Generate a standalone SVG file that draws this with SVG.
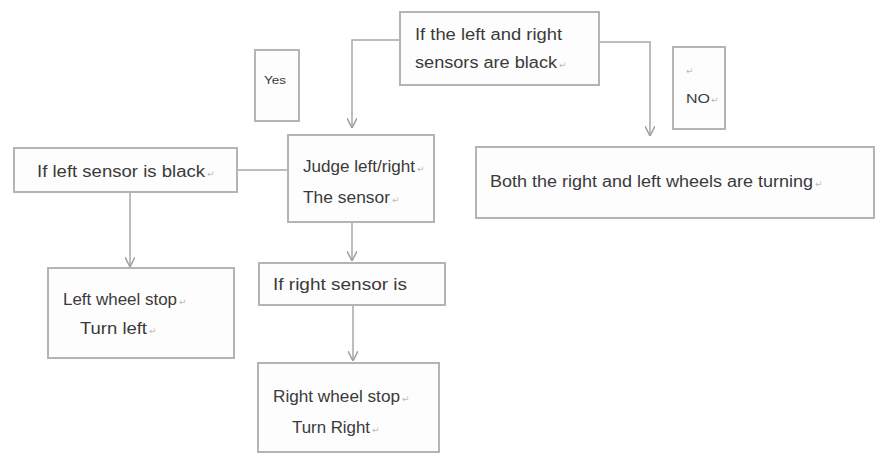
<svg xmlns="http://www.w3.org/2000/svg" width="875" height="453" viewBox="0 0 875 453">
<style>
.box{fill:#fdfdfd;stroke:#b4b4b4;stroke-width:2}
.t{font-family:"Liberation Sans",Arial,sans-serif;font-size:16px;fill:#3a3a3a}
.pm{font-family:"DejaVu Sans",sans-serif;fill:#bbbbbb;font-size:9px}
.c{fill:none;stroke:#a8a8a8;stroke-width:1.5}
</style>
<defs>
<marker id="ah" viewBox="0 0 10 10" refX="9" refY="5" markerWidth="10" markerHeight="10" markerUnits="userSpaceOnUse" orient="auto">
<path d="M0,0 L10,5 L0,10" fill="none" stroke="#a0a0a0" stroke-width="1.5"/>
</marker>
</defs>
<rect width="875" height="453" fill="#ffffff"/>
<g id="connectors">
<polyline class="c" points="400,40 352,40 352,127" marker-end="url(#ah)"/>
<polyline class="c" points="599,42 650,42 650,135" marker-end="url(#ah)"/>
<line class="c" x1="237" y1="170" x2="288" y2="170"/>
<line class="c" x1="130" y1="192" x2="130" y2="266" marker-end="url(#ah)"/>
<line class="c" x1="352" y1="222" x2="352" y2="260" marker-end="url(#ah)"/>
<line class="c" x1="353" y1="305" x2="353" y2="360" marker-end="url(#ah)"/>
</g>
<g id="top">
<rect class="box" x="400" y="12" width="199" height="73"/>
<text class="t" x="415" y="40" textLength="147" lengthAdjust="spacingAndGlyphs">If the left and right</text>
<text class="t" x="415" y="68" textLength="142" lengthAdjust="spacingAndGlyphs">sensors are black</text>
<text class="pm" x="559" y="68">↵</text>
</g>
<g id="yes">
<rect class="box" x="255" y="50" width="44" height="71"/>
<text class="t" x="264" y="84" style="font-size:11px" textLength="22" lengthAdjust="spacingAndGlyphs">Yes</text>
</g>
<g id="no">
<rect class="box" x="673" y="47" width="52" height="82"/>
<text class="pm" x="686" y="74">↵</text>
<text class="t" x="686" y="103" style="font-size:13px" textLength="24" lengthAdjust="spacingAndGlyphs">NO</text>
<text class="pm" x="711" y="103">↵</text>
</g>
<g id="judge">
<rect class="box" x="288" y="135" width="146" height="87"/>
<text class="t" x="303" y="172" textLength="112" lengthAdjust="spacingAndGlyphs">Judge left/right</text>
<text class="pm" x="417" y="172">↵</text>
<text class="t" x="303" y="203" textLength="87" lengthAdjust="spacingAndGlyphs">The sensor</text>
<text class="pm" x="392" y="203">↵</text>
</g>
<g id="leftsensor">
<rect class="box" x="14" y="148" width="223" height="44"/>
<text class="t" x="37" y="177" textLength="168" lengthAdjust="spacingAndGlyphs">If left sensor is black</text>
<text class="pm" x="207" y="177">↵</text>
</g>
<g id="both">
<rect class="box" x="476" y="147" width="398" height="71"/>
<text class="t" x="490" y="187" textLength="323" lengthAdjust="spacingAndGlyphs">Both the right and left wheels are turning</text>
<text class="pm" x="815" y="187">↵</text>
</g>
<g id="leftwheel">
<rect class="box" x="48" y="268" width="186" height="90"/>
<text class="t" x="63" y="305" textLength="114" lengthAdjust="spacingAndGlyphs">Left wheel stop</text>
<text class="pm" x="179" y="305">↵</text>
<text class="t" x="80" y="334" textLength="67" lengthAdjust="spacingAndGlyphs">Turn left</text>
<text class="pm" x="149" y="334">↵</text>
</g>
<g id="rightsensor">
<rect class="box" x="259" y="263" width="186" height="42"/>
<text class="t" x="273" y="290" textLength="134" lengthAdjust="spacingAndGlyphs">If right sensor is</text>
</g>
<g id="rightwheel">
<rect class="box" x="258" y="363" width="181" height="89"/>
<text class="t" x="273" y="402" textLength="127" lengthAdjust="spacingAndGlyphs">Right wheel stop</text>
<text class="pm" x="402" y="402">↵</text>
<text class="t" x="292" y="433" textLength="78" lengthAdjust="spacingAndGlyphs">Turn Right</text>
<text class="pm" x="372" y="433">↵</text>
</g>
</svg>
